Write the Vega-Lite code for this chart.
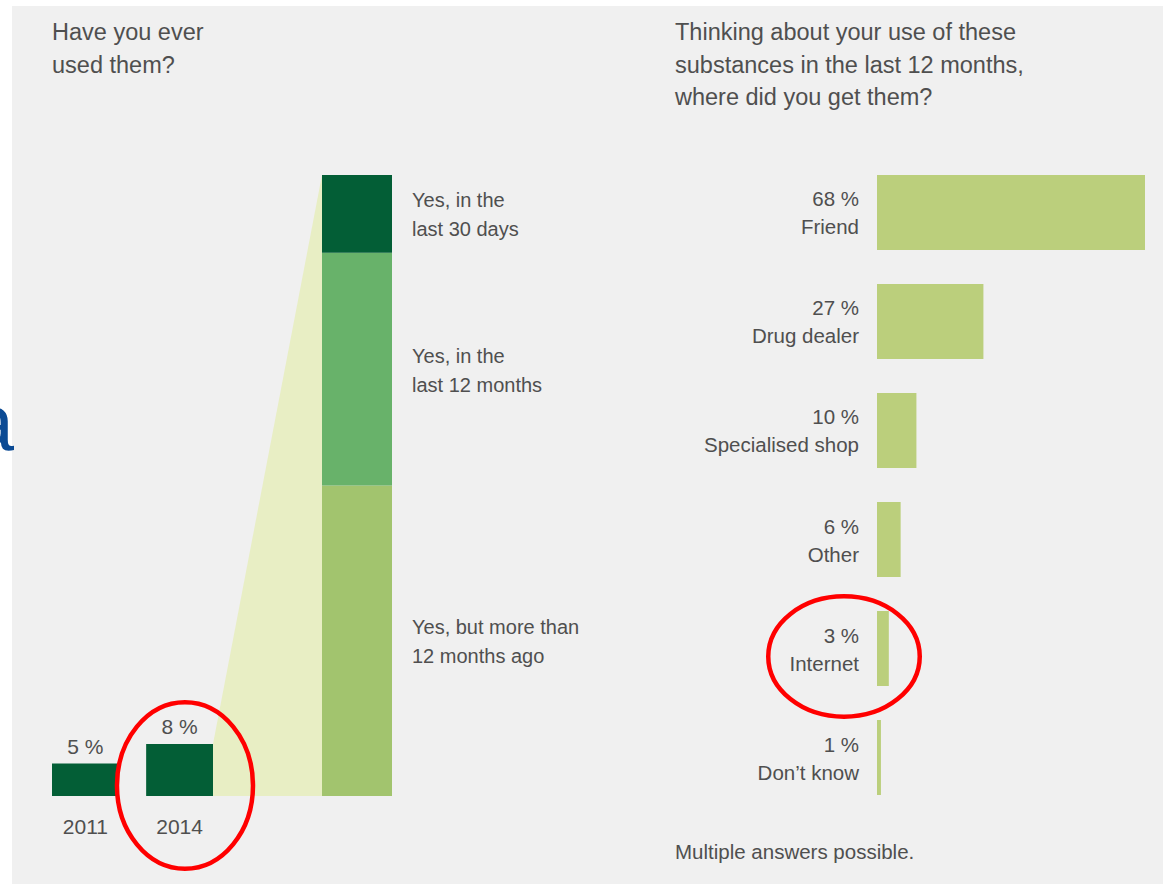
{
  "$schema": "https://vega.github.io/schema/vega-lite/v6.json",
  "width": 1151,
  "height": 878,
  "autosize": {"type": "none"},
  "padding": {"left": 12, "top": 6, "right": 0, "bottom": 0},
  "background": "#ffffff",
  "config": {
    "view": {"stroke": null, "fill": "#f0f0f0"},
    "font": "Liberation Sans",
    "text": {"font": "Liberation Sans", "color": "#4f4f4f"},
    "locale": {
      "number": {"decimal": ".", "thousands": ",", "grouping": [3], "currency": ["$", ""], "percent": " %"}
    }
  },
  "resolve": {"scale": {"x": "independent", "y": "independent", "color": "independent"}},
  "layer": [
    {
      "data": {"values": [
        {"edge": "2014 bar", "top": 0.0067},
        {"edge": "2014 breakdown", "top": 0.08}
      ]},
      "mark": {"type": "area", "color": "#e8eec4", "interpolate": "linear"},
      "encoding": {
        "x": {"field": "edge", "type": "ordinal", "sort": null, "axis": null,
              "scale": {"type": "point", "domain": ["2014 bar", "2014 breakdown"], "range": [201, 310], "padding": 0}},
        "y": {"field": "top", "type": "quantitative", "axis": null,
              "scale": {"domain": [0, 0.08], "range": [790, 169], "nice": false, "zero": false}},
        "y2": {"datum": 0}
      }
    },
    {
      "data": {"values": [
        {"year": "2011", "share": 0.05},
        {"year": "2014", "share": 0.08}
      ]},
      "encoding": {
        "x": {"field": "year", "type": "nominal", "axis": null,
              "scale": {"type": "band", "domain": ["2011", "2014"], "range": [40, 201], "paddingInner": 0.29, "paddingOuter": 0}},
        "y": {"field": "share", "type": "quantitative", "axis": null,
              "scale": {"domain": [0, 0.08], "range": [790, 738], "nice": false, "zero": false}}
      },
      "layer": [
        {"mark": {"type": "bar", "color": "#035e36"}, "encoding": {"y2": {"datum": 0}}},
        {"mark": {"type": "text", "baseline": "alphabetic", "dy": -10, "fontSize": 21},
         "encoding": {"text": {"field": "share", "type": "quantitative", "format": ".0%"}}},
        {"mark": {"type": "text", "baseline": "alphabetic", "dy": 38, "fontSize": 21},
         "encoding": {"y": {"datum": 0}, "text": {"field": "year"}}},
        {"transform": [{"filter": "datum.year == '2014'"}],
         "mark": {"type": "point", "filled": false, "color": "#ff0000", "opacity": 1, "strokeWidth": 4.5,
                  "size": 27722, "xOffset": 5.4, "yOffset": -10.5,
                  "shape": "M -0.817 0 C -0.817 -0.552 -0.451 -1 0 -1 C 0.451 -1 0.817 -0.552 0.817 0 C 0.817 0.552 0.451 1 0 1 C -0.451 1 -0.817 0.552 -0.817 0 Z"},
         "encoding": {"y": {"datum": 0}}}
      ]
    },
    {
      "data": {"values": [
        {"bar": "2014", "segment": "more than 12 months ago", "label": "Yes, but more than\n12 months ago", "share": 0.04, "order": 1},
        {"bar": "2014", "segment": "last 12 months", "label": "Yes, in the\nlast 12 months", "share": 0.03, "order": 2},
        {"bar": "2014", "segment": "last 30 days", "label": "Yes, in the\nlast 30 days", "share": 0.01, "order": 3}
      ]},
      "transform": [
        {"stack": "share", "groupby": ["bar"], "sort": [{"field": "order", "order": "ascending"}], "as": ["lo", "hi"]},
        {"calculate": "(datum.lo + datum.hi) / 2", "as": "mid"}
      ],
      "encoding": {
        "x": {"field": "bar", "type": "nominal", "axis": null,
              "scale": {"type": "band", "domain": ["2014"], "range": [310, 380], "paddingInner": 0, "paddingOuter": 0}},
        "y": {"field": "lo", "type": "quantitative", "axis": null,
              "scale": {"domain": [0, 0.08], "range": [790, 169], "nice": false, "zero": false}}
      },
      "layer": [
        {"mark": {"type": "bar"},
         "encoding": {"y2": {"field": "hi"},
                      "color": {"field": "segment", "type": "nominal", "legend": null,
                                "scale": {"domain": ["last 30 days", "last 12 months", "more than 12 months ago"],
                                          "range": ["#035e36", "#68b26a", "#a2c46e"]}}}},
        {"mark": {"type": "text", "align": "left", "baseline": "middle", "dx": 20, "dy": -12.5,
                  "lineBreak": "\n", "lineHeight": 29, "fontSize": 20},
         "encoding": {"x": {"field": "bar", "type": "nominal", "bandPosition": 1},
                      "y": {"field": "mid", "type": "quantitative"},
                      "text": {"field": "label"}}}
      ]
    },
    {
      "data": {"values": [
        {"source": "Friend", "share": 0.68},
        {"source": "Drug dealer", "share": 0.27},
        {"source": "Specialised shop", "share": 0.10},
        {"source": "Other", "share": 0.06},
        {"source": "Internet", "share": 0.03},
        {"source": "Don’t know", "share": 0.01}
      ]},
      "encoding": {
        "y": {"field": "source", "type": "nominal", "sort": null, "axis": null,
              "scale": {"type": "band", "domain": ["Friend", "Drug dealer", "Specialised shop", "Other", "Internet", "Don’t know"],
                        "range": [169, 789], "paddingInner": 0.312, "paddingOuter": 0}},
        "x": {"field": "share", "type": "quantitative", "axis": null,
              "scale": {"domain": [0, 0.68], "range": [865, 1133], "nice": false, "zero": false}}
      },
      "layer": [
        {"mark": {"type": "bar", "color": "#bbcf7c"}, "encoding": {"x2": {"datum": 0}}},
        {"mark": {"type": "text", "align": "right", "baseline": "middle", "dx": -18, "dy": -12, "fontSize": 20.5},
         "encoding": {"x": {"datum": 0}, "text": {"field": "share", "type": "quantitative", "format": ".0%"}}},
        {"mark": {"type": "text", "align": "right", "baseline": "middle", "dx": -18, "dy": 16, "fontSize": 20.5},
         "encoding": {"x": {"datum": 0}, "text": {"field": "source"}}},
        {"transform": [{"filter": "datum.source == 'Internet'"}],
         "mark": {"type": "point", "filled": false, "color": "#ff0000", "opacity": 1, "strokeWidth": 4.5,
                  "size": 22952, "xOffset": -33, "yOffset": 8,
                  "shape": "M -1 0 C -1 -0.439 -0.552 -0.795 0 -0.795 C 0.552 -0.795 1 -0.439 1 0 C 1 0.439 0.552 0.795 0 0.795 C -0.552 0.795 -1 0.439 -1 0 Z"},
         "encoding": {"x": {"datum": 0}}}
      ]
    },
    {
      "data": {"values": [
        {"panel": "left", "row": "top", "kind": "title", "text": "Have you ever\nused them?"},
        {"panel": "right", "row": "top", "kind": "title", "text": "Thinking about your use of these\nsubstances in the last 12 months,\nwhere did you get them?"},
        {"panel": "right", "row": "bottom", "kind": "note", "text": "Multiple answers possible."},
        {"panel": "left", "row": "middle", "kind": "fragment", "text": "a"}
      ]},
      "encoding": {
        "x": {"field": "panel", "type": "nominal", "axis": null,
              "scale": {"type": "point", "domain": ["left", "right"], "range": [40, 663], "padding": 0}},
        "y": {"field": "row", "type": "nominal", "axis": null,
              "scale": {"type": "point", "domain": ["top", "middle", "bottom"], "range": [15, 837], "padding": 0}},
        "text": {"field": "text"}
      },
      "layer": [
        {"transform": [{"filter": "datum.kind == 'title'"}],
         "mark": {"type": "text", "align": "left", "baseline": "top", "fontSize": 23.5, "lineBreak": "\n", "lineHeight": 32.5}},
        {"transform": [{"filter": "datum.kind == 'note'"}],
         "mark": {"type": "text", "align": "left", "baseline": "top", "fontSize": 20.5}},
        {"transform": [{"filter": "datum.kind == 'fragment'"}],
         "mark": {"type": "text", "align": "right", "baseline": "alphabetic", "fontSize": 80, "dx": -38, "dy": 18, "color": "#0b4a94"}}
      ]
    }
  ]
}
